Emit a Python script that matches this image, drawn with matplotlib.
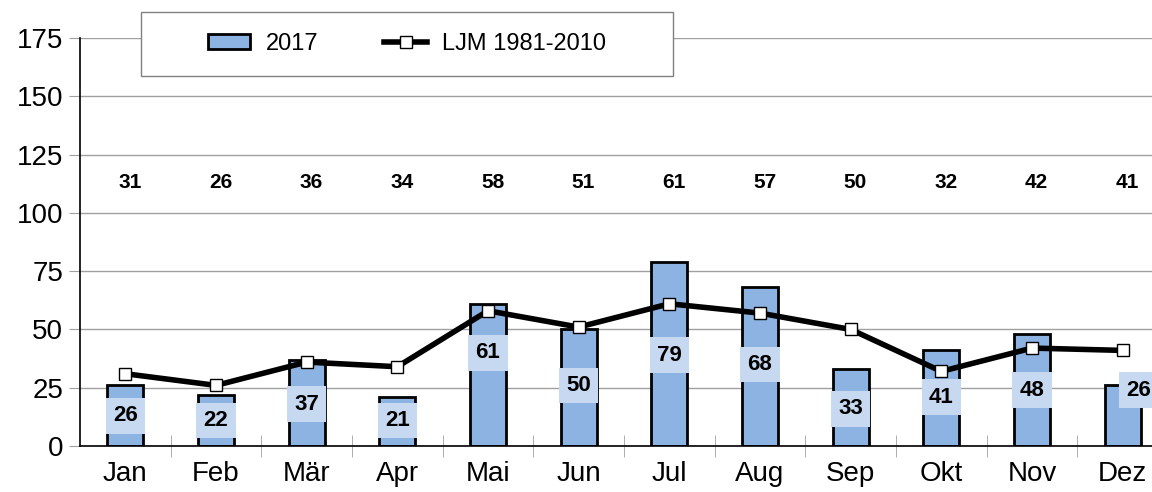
import numpy as np
import matplotlib
matplotlib.use('Agg')
from matplotlib import pyplot as plt
from matplotlib.patches import Rectangle
from matplotlib.ticker import FixedLocator

months = ['Jan', 'Feb', 'Mär', 'Apr', 'Mai', 'Jun', 'Jul', 'Aug', 'Sep', 'Okt', 'Nov', 'Dez']
rain_2017 = [26, 22, 37, 21, 61, 50, 79, 68, 33, 41, 48, 26]
ljm = [31, 26, 36, 34, 58, 51, 61, 57, 50, 32, 42, 41]
label_y = [13, 11, 18, 11, 40, 26, 39, 35, 16, 21, 24, 24]
yticks = [0, 25, 50, 75, 100, 125, 150, 175]

plt.rcParams['font.family'] = ['Liberation Sans', 'DejaVu Sans']

fig = plt.figure(figsize=(11.52, 4.92), dpi=100)
ax = fig.add_axes([80 / 1152, 46 / 492, 1088 / 1152, 408 / 492])

x = np.arange(len(months))
bars = ax.bar(x, rain_2017, width=0.4, color='#8db3e2', edgecolor='black', linewidth=2,
              zorder=2)
line, = ax.plot(x, ljm, color='black', linewidth=4, marker='s', markersize=8,
                markerfacecolor='white', markeredgecolor='black', markeredgewidth=1,
                zorder=3)

for i, (v, ly) in enumerate(zip(rain_2017, label_y)):
    dx = 0.18 if i == len(months) - 1 else 0
    ax.text(i + dx, ly, str(v), ha='center', va='center', fontsize=16, fontweight='bold',
            bbox=dict(boxstyle='square,pad=0.33', facecolor='#c6d9f1', edgecolor='none'),
            zorder=4)

for i, v in enumerate(ljm):
    ax.text(i + 0.05, 113, str(v), ha='center', va='center', fontsize=15,
            fontweight='bold', zorder=4)

ax.set_xlim(-0.5, len(months) - 0.5)
ax.set_ylim(0, 175)
ax.set_yticks(yticks)
ax.set_xticks(x)
ax.set_xticklabels(months, fontsize=20)
ax.tick_params(axis='y', labelsize=20, length=8, color='#a0a0a0', pad=4)
ax.tick_params(axis='x', which='major', length=0, pad=11)
ax.xaxis.set_minor_locator(FixedLocator(np.arange(0.5, len(months) - 0.5, 1)))
ax.tick_params(axis='x', which='minor', length=16, direction='inout', color='#a0a0a0')
ax.grid(axis='y', color='#a0a0a0', linewidth=1, zorder=0)
ax.set_axisbelow(True)
for side in ['top', 'right']:
    ax.spines[side].set_visible(False)
ax.spines['left'].set_linewidth(1.2)
ax.spines['bottom'].set_linewidth(1.2)

# legend box drawn separately so it can be wider than the entries
legend_box = (141 / 1152, 416 / 492, 532 / 1152, 64 / 492)
fig.patches.append(Rectangle(legend_box[:2], legend_box[2], legend_box[3],
                             transform=fig.transFigure, facecolor='white',
                             edgecolor='#808080', linewidth=1, zorder=4))
fig.legend([bars, line], ['2017', 'LJM 1981-2010'], loc='center', ncol=2,
           fontsize=17, bbox_to_anchor=legend_box, frameon=False,
           handlelength=1.8, handleheight=0.6, columnspacing=2.8, handletextpad=0.65,
           borderaxespad=0)

fig.savefig('out.png', dpi=100)
